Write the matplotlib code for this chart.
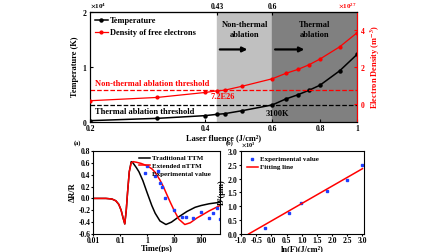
import matplotlib
matplotlib.use('Agg')
import matplotlib.pyplot as plt
from matplotlib import ticker

plt.rcParams['font.family'] = ['Liberation Serif', 'DejaVu Serif']
plt.rcParams['font.weight'] = 'bold'
plt.rcParams['axes.labelweight'] = 'bold'
plt.rcParams['mathtext.fontset'] = 'stix'
plt.rcParams['font.size'] = 5.5
plt.rcParams['axes.linewidth'] = 0.8

# ---- top panel: fluence scan ----
fluence = [0.2, 0.3, 0.4, 0.43, 0.45, 0.5, 0.6, 0.65, 0.7, 0.75, 0.8, 0.9, 1.0]
temperature = [240, 660, 1150, 1390, 1510, 2050, 3100, 4170, 4950, 5800, 6700, 9300, 12300]
density = [0.16e27, 0.34e27, 0.61e27, 0.70e27, 0.735e27, 0.95e27, 1.36e27, 1.65e27,
           1.87e27, 2.13e27, 2.44e27, 3.10e27, 3.87e27]
T_thr = 3100
n_thr = 7.2e26
f_nonthermal = 0.43
f_thermal = 0.6

# ---- panel (a): transient reflectivity ----
t_ttm = [0.01, 0.03, 0.05, 0.07, 0.09, 0.11, 0.13, 0.15, 0.17, 0.19, 0.22, 0.26, 0.3,
         0.4, 0.5, 0.7, 1, 1.5, 2, 3, 5, 8, 15, 30, 60, 100, 200, 500]
r_ttm = [0, 0, -0.01, -0.04, -0.1, -0.2, -0.33, -0.43, -0.2, 0.1, 0.45, 0.62, 0.6,
         0.52, 0.45, 0.3, 0.1, -0.12, -0.25, -0.38, -0.44, -0.40, -0.31, -0.22, -0.15,
         -0.12, -0.09, -0.065]
t_ext = [0.01, 0.03, 0.05, 0.07, 0.09, 0.11, 0.13, 0.15, 0.17, 0.19, 0.22, 0.26, 0.3,
         0.4, 0.6, 1, 1.5, 2, 3, 4, 5, 7, 10, 15, 25, 40, 70, 100, 200, 500]
r_ext = [0, 0, -0.01, -0.04, -0.1, -0.2, -0.33, -0.43, -0.2, 0.1, 0.45, 0.6, 0.62,
         0.61, 0.59, 0.55, 0.5, 0.44, 0.31, 0.2, 0.1, -0.05, -0.2, -0.35, -0.44, -0.41,
         -0.33, -0.29, -0.21, -0.12]
t_exp = [1, 2, 2.6, 3, 3.7, 4.7, 9.6, 20, 28, 50, 100, 200, 280, 380, 500]
r_exp = [0.55, 0.38, 0.47, 0.26, 0.19, 0.01, -0.20, -0.31, -0.31, -0.33, -0.23, -0.33,
         -0.25, -0.16, -0.34]

# ---- panel (b): D^2 vs ln(F) ----
lnF = [-0.22, 0.58, 0.99, 1.83, 2.49, 2.98]
D2 = [220, 770, 1110, 1570, 1950, 2490]
fit_x = [-0.75, 3.0]
fit_y = [0, 2360]

fig = plt.figure(figsize=(4.48, 2.52), dpi=100)

# ================= top panel =================
ax = fig.add_axes([0.201, 0.516, 0.596, 0.436])
ax.set_xscale('log')
ax.set_xlim(0.2, 1.0)
ax.set_ylim(0, 2e4)
ax.axvspan(f_nonthermal, f_thermal, color='#c0c0c0', zorder=0)
ax.axvspan(f_thermal, 1.0, color='#808080', zorder=0)
ax.plot(fluence, temperature, color='k', lw=1.1, marker='o', ms=2.2, zorder=3)
ax.axhline(T_thr, color='k', ls='--', lw=0.9, zorder=2)
ax.set_xticks([0.2, 0.4, 0.6, 0.8, 1.0])
ax.xaxis.set_major_formatter(ticker.FormatStrFormatter('%g'))
ax.xaxis.set_minor_locator(ticker.NullLocator())
ax.set_yticks([0, 1e4, 2e4])
fmt = ticker.ScalarFormatter(useMathText=True)
fmt.set_powerlimits((0, 0))
ax.yaxis.set_major_formatter(fmt)
ax.yaxis.get_offset_text().set_fontsize(5)
ax.tick_params(direction='in', length=2, labelsize=5.5, pad=2)
ax.set_xlabel('Laser fluence (J/cm²)', fontsize=6, labelpad=1)
ax.set_ylabel('Temperature (K)', fontsize=6, labelpad=2)

ax.text(0.206, 7000, 'Non-thermal ablation threshold', color='red', fontsize=6,
        va='center', ha='left')
ax.text(0.206, 1900, 'Thermal ablation threshold', color='k', fontsize=6,
        va='center', ha='left')
ax.text(0.445, 4500, '7.2E26', color='red', fontsize=6, va='center', ha='center')
ax.text(0.617, 1500, '3100K', color='k', fontsize=6, va='center', ha='center')
ax.text(0.508, 16700, 'Non-thermal\nablation', color='k', fontsize=6,
        va='center', ha='center', linespacing=1.4)
ax.text(0.775, 16700, 'Thermal\nablation', color='k', fontsize=6,
        va='center', ha='center', linespacing=1.4)
ax.annotate('', xy=(0.525, 13200), xytext=(0.43, 13200),
            arrowprops=dict(arrowstyle='-|>', color='k', lw=1.6, mutation_scale=7))
ax.annotate('', xy=(0.74, 13200), xytext=(0.6, 13200),
            arrowprops=dict(arrowstyle='-|>', color='k', lw=1.6, mutation_scale=7))

top = ax.secondary_xaxis('top')
top.set_xticks([f_nonthermal, f_thermal])
top.xaxis.set_major_formatter(ticker.FormatStrFormatter('%g'))
top.xaxis.set_minor_locator(ticker.NullLocator())
top.tick_params(direction='in', length=2, labelsize=5.5, pad=1)

ax2 = ax.twinx()
ax2.set_ylim(-1e27, 5e27)
ax2.plot(fluence, density, color='red', lw=0.9, marker='o', ms=2, zorder=3)
ax2.axhline(n_thr, color='red', ls='--', lw=0.9)
ax2.set_yticks([0, 2e27, 4e27])
fmt2 = ticker.ScalarFormatter(useMathText=True)
fmt2.set_powerlimits((0, 0))
ax2.yaxis.set_major_formatter(fmt2)
ax2.yaxis.get_offset_text().set_fontsize(5)
ax2.yaxis.get_offset_text().set_color('red')
ax2.tick_params(axis='y', direction='in', length=2, labelsize=5.5, pad=2,
                colors='red')
ax2.spines['right'].set_color('red')
ax2.set_ylabel('Electron Density (m$^{-3}$)', color='red', fontsize=6, labelpad=2)

h1, = ax.plot([], [], color='k', lw=1.1, marker='o', ms=2.2)
h2, = ax.plot([], [], color='red', lw=0.9, marker='o', ms=2)
ax2.legend([h1, h2], ['Temperature', 'Density of free electrons'], loc='upper left',
           frameon=False, fontsize=6, handlelength=1.5, handletextpad=0.3,
           borderaxespad=0.2, labelspacing=0.5)

# ================= panel (a) =================
axa = fig.add_axes([0.2076, 0.0714, 0.2834, 0.3296])
axa.set_xscale('log')
axa.plot(t_ttm, r_ttm, color='k', lw=1.1, label='Traditional TTM')
axa.plot(t_ext, r_ext, color='red', lw=1.1, label='Extended nTTM')
axa.plot(t_exp, r_exp, ls='none', marker='s', ms=2, color='#1f3fff',
         label='Experimental value')
axa.set_xlim(0.01, 500)
axa.set_ylim(-0.6, 0.8)
axa.set_yticks([-0.6, -0.4, -0.2, 0.0, 0.2, 0.4, 0.6, 0.8])
axa.yaxis.set_major_formatter(ticker.FormatStrFormatter('%.1f'))
axa.set_xticks([0.01, 0.1, 1, 10, 100])
axa.xaxis.set_major_formatter(ticker.FormatStrFormatter('%g'))
axa.xaxis.set_minor_locator(ticker.NullLocator())
axa.tick_params(direction='out', length=1.5, labelsize=5.5, pad=0.5)
axa.set_xlabel('Time(ps)', fontsize=6, labelpad=0)
axa.set_ylabel('ΔR/R', fontsize=6, labelpad=1)
axa.legend(loc='upper left', bbox_to_anchor=(0.33, 1.0), frameon=False, fontsize=5,
           handlelength=1.6, handletextpad=0.3, borderaxespad=0.2, labelspacing=0.3)
fig.text(0.172, 0.433, '(a)', fontsize=4.5, ha='center', va='center')

# ================= panel (b) =================
axb = fig.add_axes([0.538, 0.0714, 0.2745, 0.3296])
axb.plot(lnF, D2, ls='none', marker='s', ms=2, color='#1f3fff',
         label='Experimental value')
axb.plot(fit_x, fit_y, color='red', lw=1.1, label='Fitting line')
axb.set_xlim(-1.0, 3.05)
axb.set_ylim(0, 3000)
axb.set_xticks([-1.0, -0.5, 0.0, 0.5, 1.0, 1.5, 2.0, 2.5, 3.0])
axb.xaxis.set_major_formatter(ticker.FormatStrFormatter('%.1f'))
axb.set_yticks([0, 500, 1000, 1500, 2000, 2500, 3000])
fmt3 = ticker.ScalarFormatter(useMathText=True)
fmt3.set_powerlimits((0, 0))
axb.yaxis.set_major_formatter(fmt3)
axb.yaxis.get_offset_text().set_fontsize(4.5)
axb.tick_params(direction='out', length=1.5, labelsize=5.5, pad=0.5)
axb.set_xlabel('ln(F)(J/cm²)', fontsize=6, labelpad=0)
axb.set_ylabel('D²(μm)', fontsize=6, labelpad=1)
axb.legend(loc='upper left', frameon=False, fontsize=5, handlelength=1.6,
           handletextpad=0.3, borderaxespad=0.4, labelspacing=0.3)
fig.text(0.513, 0.433, '(b)', fontsize=4.5, ha='center', va='center')

fig.savefig('out.png', dpi=100)
